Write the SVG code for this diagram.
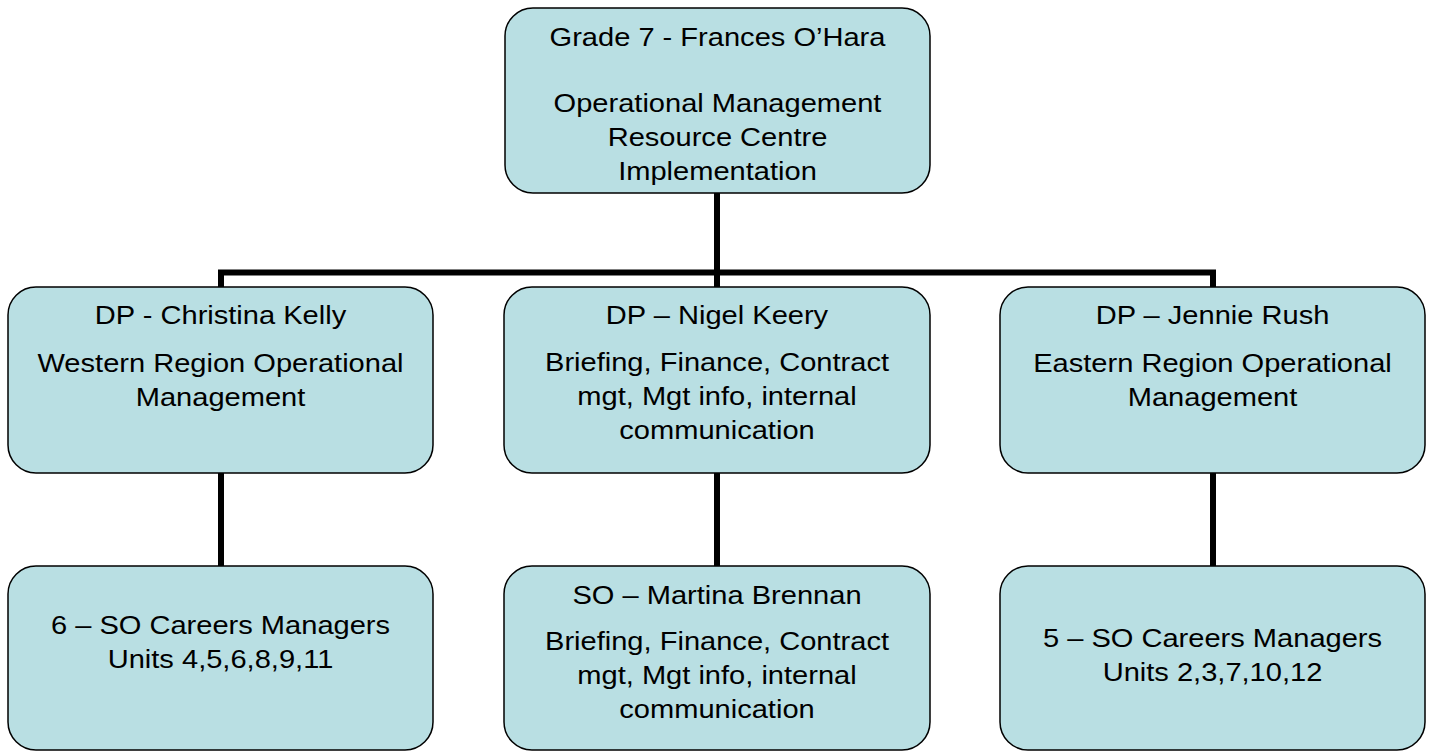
<svg xmlns="http://www.w3.org/2000/svg" width="1433" height="751" viewBox="0 0 1433 751">
<style>
.box{fill:#b9dfe3;stroke:#000;stroke-width:1.5}
.t{font-family:"Liberation Sans",Arial,sans-serif;font-size:25.5px;text-anchor:middle;fill:#000}
.c{stroke:#000;stroke-width:6;fill:none}
</style>
<rect width="1433" height="751" fill="#fff"/>
<g id="connectors">
<path class="c" d="M717 193 V272.5"/>
<path class="c" d="M221 287 V272.5 H1213 V287"/>
<path class="c" d="M717 272.5 V287"/>
<path class="c" d="M221 473 V566"/>
<path class="c" d="M717 473 V566"/>
<path class="c" d="M1213 473 V566"/>
</g>
<g id="top">
<rect class="box" x="505" y="8" width="425" height="185" rx="28"/>
<text class="t" transform="translate(717.5,46) scale(1.14,1)">Grade 7 - Frances O’Hara</text>
<text class="t" transform="translate(717.5,112) scale(1.14,1)">Operational Management</text>
<text class="t" transform="translate(717.5,146) scale(1.14,1)">Resource Centre</text>
<text class="t" transform="translate(717.5,180) scale(1.14,1)">Implementation</text>
</g>
<g id="kelly">
<rect class="box" x="8" y="287" width="425" height="186" rx="28"/>
<text class="t" transform="translate(220.5,324) scale(1.14,1)">DP - Christina Kelly</text>
<text class="t" transform="translate(220.5,372) scale(1.14,1)">Western Region Operational</text>
<text class="t" transform="translate(220.5,406) scale(1.14,1)">Management</text>
</g>
<g id="keery">
<rect class="box" x="504" y="287" width="426" height="186" rx="28"/>
<text class="t" transform="translate(717,324) scale(1.14,1)">DP – Nigel Keery</text>
<text class="t" transform="translate(717,371) scale(1.14,1)">Briefing, Finance, Contract</text>
<text class="t" transform="translate(717,405) scale(1.14,1)">mgt, Mgt info, internal</text>
<text class="t" transform="translate(717,439) scale(1.14,1)">communication</text>
</g>
<g id="rush">
<rect class="box" x="1000" y="287" width="425" height="186" rx="28"/>
<text class="t" transform="translate(1212.5,324) scale(1.14,1)">DP – Jennie Rush</text>
<text class="t" transform="translate(1212.5,372) scale(1.14,1)">Eastern Region Operational</text>
<text class="t" transform="translate(1212.5,406) scale(1.14,1)">Management</text>
</g>
<g id="west-managers">
<rect class="box" x="8" y="566" width="425" height="184" rx="28"/>
<text class="t" transform="translate(220.5,634) scale(1.14,1)">6 – SO Careers Managers</text>
<text class="t" transform="translate(220.5,668) scale(1.14,1)">Units 4,5,6,8,9,11</text>
</g>
<g id="brennan">
<rect class="box" x="504" y="566" width="426" height="184" rx="28"/>
<text class="t" transform="translate(717,604) scale(1.14,1)">SO – Martina Brennan</text>
<text class="t" transform="translate(717,650) scale(1.14,1)">Briefing, Finance, Contract</text>
<text class="t" transform="translate(717,684) scale(1.14,1)">mgt, Mgt info, internal</text>
<text class="t" transform="translate(717,718) scale(1.14,1)">communication</text>
</g>
<g id="east-managers">
<rect class="box" x="1000" y="566" width="425" height="184" rx="28"/>
<text class="t" transform="translate(1212.5,647) scale(1.14,1)">5 – SO Careers Managers</text>
<text class="t" transform="translate(1212.5,681) scale(1.14,1)">Units 2,3,7,10,12</text>
</g>
</svg>
